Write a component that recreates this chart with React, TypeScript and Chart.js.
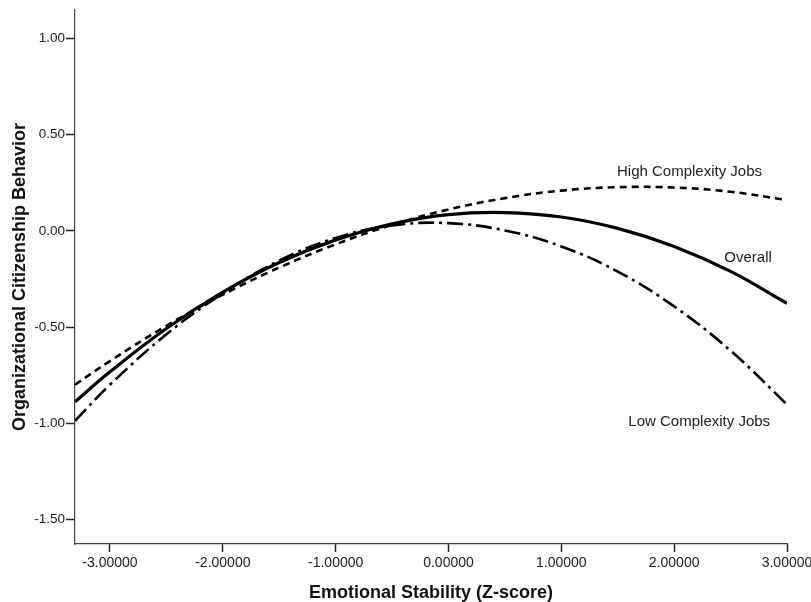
import React, { useEffect, useRef } from "react";
import { Chart, registerables } from "chart.js";

Chart.register(...registerables);

// Emotional stability (z-score) sample positions
const xValues = [-3.31, -3, -2.5, -2, -1.5, -1, -0.5, 0, 0.5, 1, 1.5, 2, 2.5, 3];
// Organizational citizenship behavior
const overallValues = [-0.889, -0.733, -0.508, -0.319, -0.165, -0.047, 0.036, 0.084, 0.095, 0.072, 0.013, -0.081, -0.211, -0.377];
const highValues = [-0.8, -0.677, -0.494, -0.332, -0.191, -0.07, 0.031, 0.111, 0.17, 0.209, 0.227, 0.225, 0.203, 0.16];
const lowValues = [-0.988, -0.8, -0.538, -0.325, -0.155, -0.037, 0.028, 0.04, 0.002, -0.081, -0.212, -0.393, -0.623, -0.903];

const xTicks = [-3, -2, -1, 0, 1, 2, 3];
const yTicks = [-1.5, -1.0, -0.5, 0, 0.5, 1.0];

const labelTexts = ["High Complexity Jobs", "Overall", "Low Complexity Jobs"];
const labelX = [2.136, 2.655, 2.222];
const labelY = [0.307, -0.141, -0.993];

const X_MIN = -3.31;
const X_MAX = 3.0;
const Y_MIN = -1.628;
const Y_MAX = 1.148;

const toPoints = (ys: number[]) => xValues.map((x, i) => ({ x, y: ys[i] }));

const curveLabels = {
  id: "curveLabels",
  afterDatasetsDraw(chart: any) {
    const { ctx, scales } = chart;
    ctx.save();
    ctx.fillStyle = "#222";
    ctx.font = "15px 'Liberation Sans', Arial, sans-serif";
    ctx.textAlign = "center";
    ctx.textBaseline = "middle";
    labelTexts.forEach((t, i) => {
      ctx.fillText(t, scales.x.getPixelForValue(labelX[i]), scales.y.getPixelForValue(labelY[i]));
    });
    ctx.restore();
  },
};

const whiteBg = {
  id: "whiteBg",
  beforeDraw(chart: any) {
    const { ctx, width, height } = chart;
    ctx.save();
    ctx.fillStyle = "#fff";
    ctx.fillRect(0, 0, width, height);
    ctx.restore();
  },
};

export default function App() {
  const ref = useRef<HTMLCanvasElement | null>(null);

  useEffect(() => {
    if (!ref.current) return;
    const font = "'Liberation Sans', Arial, sans-serif";
    const chart = new Chart(ref.current, {
      type: "scatter",
      data: {
        datasets: [
          {
            label: "High Complexity Jobs",
            data: toPoints(highValues),
            showLine: true,
            borderColor: "#000",
            borderWidth: 2.6,
            borderDash: [7, 5],
            pointRadius: 0,
            tension: 0.4,
            fill: false,
          },
          {
            label: "Low Complexity Jobs",
            data: toPoints(lowValues),
            showLine: true,
            borderColor: "#000",
            borderWidth: 2.6,
            borderDash: [16, 5, 3, 5],
            pointRadius: 0,
            tension: 0.4,
            fill: false,
          },
          {
            label: "Overall",
            data: toPoints(overallValues),
            showLine: true,
            borderColor: "#000",
            borderWidth: 3.2,
            pointRadius: 0,
            tension: 0.4,
            fill: false,
          },
        ],
      },
      options: {
        animation: false,
        responsive: false,
        layout: { padding: { left: 0, top: 10, right: 24, bottom: 0 } },
        plugins: {
          legend: { display: false },
          tooltip: { enabled: false },
        },
        scales: {
          x: {
            type: "linear",
            min: X_MIN,
            max: X_MAX,
            afterBuildTicks: (scale: any) => {
              scale.ticks = xTicks.map((v) => ({ value: v }));
            },
            afterFit: (scale: any) => {
              scale.height = 58;
              scale.paddingLeft = 0;
              scale.paddingRight = 0;
            },
            grid: {
              drawOnChartArea: false,
              drawTicks: true,
              tickLength: 8,
              tickColor: "#222",
              tickWidth: 1.5,
            },
            border: { display: true, color: "#444", width: 1.2 },
            ticks: {
              color: "#222",
              font: { family: font, size: 14 },
              padding: 3,
              maxRotation: 0,
              autoSkip: false,
              callback: (v: any) => Number(v).toFixed(5),
            },
            title: {
              display: true,
              text: "Emotional Stability (Z-score)",
              color: "#111",
              font: { family: font, size: 18, weight: "bold", lineHeight: 1.0 },
              padding: { top: 0, bottom: 0 },
            },
          },
          y: {
            type: "linear",
            min: Y_MIN,
            max: Y_MAX,
            afterBuildTicks: (scale: any) => {
              scale.ticks = yTicks.map((v) => ({ value: v }));
            },
            afterFit: (scale: any) => {
              scale.width = 75;
              scale.paddingTop = 0;
              scale.paddingBottom = 0;
            },
            grid: {
              drawOnChartArea: false,
              drawTicks: true,
              tickLength: 9,
              tickColor: "#222",
              tickWidth: 1.5,
            },
            border: { display: true, color: "#444", width: 1.2 },
            ticks: {
              color: "#222",
              font: { family: font, size: 13.5 },
              padding: 1,
              autoSkip: false,
              callback: (v: any) => Number(v).toFixed(2),
            },
            title: {
              display: true,
              text: "Organizational Citizenship Behavior",
              color: "#111",
              font: { family: font, size: 18, weight: "bold", lineHeight: 1.2 },
              padding: { top: 9, bottom: 0 },
            },
          },
        },
      },
      plugins: [whiteBg, curveLabels],
    });
    return () => chart.destroy();
  }, []);

  return (
    <div style={{ position: "absolute", left: 0, top: 0, width: 811, height: 602 }}>
      <canvas ref={ref} width={811} height={602} />
    </div>
  );
}
